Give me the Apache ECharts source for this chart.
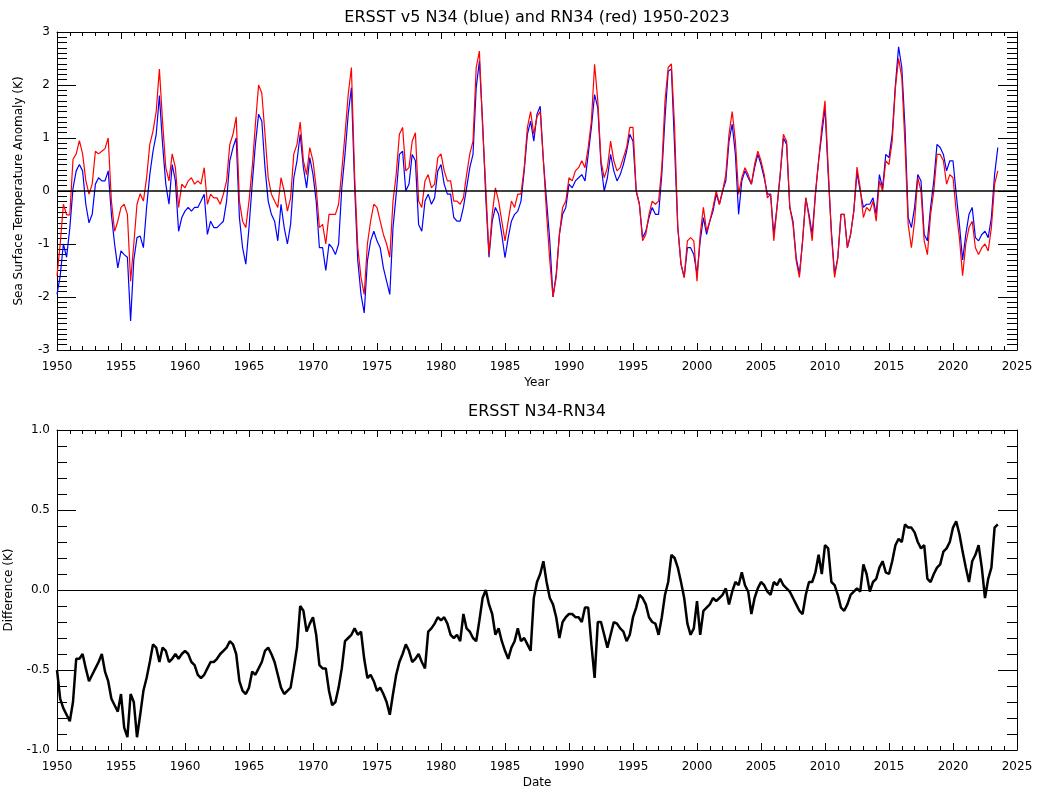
<!DOCTYPE html>
<html>
<head>
<meta charset="utf-8">
<title>ERSST v5 N34 and RN34</title>
<script src="https://cdn.jsdelivr.net/npm/echarts@6/dist/echarts.min.js"></script>
<style>
  html, body { margin: 0; padding: 0; background: #fff; }
  #chart { width: 1037px; height: 788px; }
</style>
</head>
<body>
<div id="chart"></div>
<script>
// Quarterly samples (Jan, Apr, Jul, Oct) starting January 1950.
const startYear = 1950;
const stepYears = 0.25;

// Nino 3.4 anomaly, ERSST v5 (K)
const n34 = [
  -1.95, -1.6, -1.0, -1.25,   // 1950
  -0.7, 0.05, 0.38, 0.5,
  0.38, -0.25, -0.6, -0.44,
  0.13, 0.25, 0.19, 0.19,
  0.38, -0.44, -1.0, -1.45,
  -1.13, -1.2, -1.25, -2.45,  // 1955
  -1.3, -0.88, -0.85, -1.07,
  -0.31, 0.31, 0.75, 1.07,
  1.8, 0.88, 0.13, -0.25,
  0.5, 0.19, -0.76, -0.5,
  -0.38, -0.31, -0.38, -0.31, // 1960
  -0.31, -0.19, -0.06, -0.82,
  -0.57, -0.69, -0.69, -0.63,
  -0.57, -0.19, 0.57, 0.82,
  1.0, -0.5, -1.07, -1.38,
  -0.69, 0.13, 0.88, 1.45,    // 1965
  1.32, 0.44, -0.19, -0.44,
  -0.57, -0.94, -0.25, -0.69,
  -1.0, -0.63, 0.25, 0.57,
  1.07, 0.44, 0.06, 0.63,
  0.31, -0.19, -1.07, -1.07,  // 1970
  -1.5, -1.0, -1.07, -1.2,
  -1.0, 0.06, 0.69, 1.45,
  1.95, 0.1, -1.32, -1.95,
  -2.3, -1.32, -0.94, -0.76,
  -0.94, -1.07, -1.45, -1.7,  // 1975
  -1.95, -0.69, -0.06, 0.69,
  0.75, 0.0, 0.13, 0.69,
  0.57, -0.63, -0.76, -0.19,
  -0.06, -0.25, -0.13, 0.38,
  0.5, 0.13, -0.06, -0.06,    // 1980
  -0.5, -0.57, -0.57, -0.31,
  0.06, 0.44, 0.69, 1.95,
  2.45, 1.3, -0.13, -1.25,
  -0.57, -0.31, -0.44, -0.82,
  -1.26, -0.88, -0.57, -0.44, // 1985
  -0.38, -0.19, 0.38, 1.07,
  1.32, 0.94, 1.45, 1.6,
  0.57, -0.19, -0.94, -2.0,
  -1.57, -0.82, -0.44, -0.31,
  0.13, 0.06, 0.19, 0.25,     // 1990
  0.31, 0.19, 0.69, 1.2,
  1.82, 1.57, 0.5, 0.0,
  0.25, 0.69, 0.38, 0.19,
  0.31, 0.5, 0.75, 1.07,
  0.94, 0.0, -0.25, -0.88,    // 1995
  -0.76, -0.5, -0.31, -0.44,
  -0.44, 0.31, 1.38, 2.26,
  2.3, 0.82, -0.69, -1.38,
  -1.63, -1.07, -1.07, -1.2,
  -1.57, -0.94, -0.5, -0.82,  // 2000
  -0.57, -0.38, -0.06, -0.25,
  0.0, 0.19, 0.94, 1.26,
  0.69, -0.44, 0.19, 0.38,
  0.25, 0.13, 0.44, 0.69,
  0.5, 0.25, -0.06, -0.06,    // 2005
  -0.82, -0.31, 0.31, 1.0,
  0.88, -0.31, -0.57, -1.26,
  -1.57, -0.94, -0.13, -0.44,
  -0.82, -0.06, 0.57, 1.07,
  1.57, 0.31, -0.76, -1.57,   // 2010
  -1.26, -0.44, -0.44, -1.07,
  -0.82, -0.38, 0.35, 0.0,
  -0.31, -0.25, -0.25, -0.13,
  -0.44, 0.31, 0.06, 0.69,
  0.63, 1.07, 2.0, 2.72,      // 2015
  2.33, 1.2, -0.5, -0.69,
  -0.31, 0.31, 0.19, -0.82,
  -0.94, -0.31, 0.19, 0.88,
  0.82, 0.69, 0.38, 0.57,
  0.57, -0.06, -0.63, -1.3,   // 2020
  -0.82, -0.44, -0.31, -0.88,
  -0.94, -0.82, -0.76, -0.88,
  -0.5, 0.31, 0.82
];

// Relative Nino 3.4 index (K)
const rn34 = [
  -1.6, -1.0, -0.25, -0.45,   // 1950
  -0.45, 0.6, 0.7, 0.95,
  0.7, 0.2, -0.06, 0.13,
  0.75, 0.7, 0.75, 0.8,
  1.0, -0.19, -0.76, -0.57,
  -0.31, -0.25, -0.44, -1.7,  // 1955
  -1.0, -0.25, -0.05, -0.19,
  0.25, 0.88, 1.13, 1.5,
  2.3, 1.3, 0.44, 0.19,
  0.7, 0.44, -0.31, 0.13,
  0.06, 0.19, 0.25, 0.13,     // 1960
  0.19, 0.13, 0.44, -0.25,
  -0.06, -0.13, -0.13, -0.25,
  -0.06, 0.19, 0.88, 1.07,
  1.4, -0.19, -0.57, -0.69,
  -0.19, 0.44, 1.26, 2.0,     // 1965
  1.85, 1.07, 0.25, -0.06,
  -0.19, -0.31, 0.25, 0.0,
  -0.38, -0.13, 0.7, 0.88,
  1.3, 0.57, 0.31, 0.82,
  0.57, 0.06, -0.69, -0.63,   // 1970
  -1.0, -0.44, -0.44, -0.44,
  -0.25, 0.38, 1.07, 1.82,
  2.33, 0.3, -1.07, -1.63,
  -1.95, -1.0, -0.57, -0.25,
  -0.31, -0.57, -0.82, -1.0,  // 1975
  -1.25, -0.19, 0.31, 1.07,
  1.2, 0.38, 0.44, 0.94,
  1.1, -0.19, -0.31, 0.19,
  0.31, 0.06, 0.13, 0.63,
  0.7, 0.38, 0.19, 0.19,      // 1980
  -0.19, -0.19, -0.25, -0.13,
  0.31, 0.7, 0.94, 2.33,
  2.64, 1.2, 0.06, -1.2,
  -0.44, 0.06, -0.19, -0.57,
  -0.94, -0.57, -0.19, -0.31, // 1985
  -0.06, -0.06, 0.44, 1.2,
  1.5, 1.07, 1.4, 1.5,
  0.57, -0.44, -1.32, -2.0,
  -1.63, -0.82, -0.31, -0.19,
  0.25, 0.19, 0.38, 0.44,     // 1990
  0.57, 0.44, 0.82, 1.32,
  2.39, 1.7, 0.57, 0.25,
  0.44, 0.94, 0.57, 0.38,
  0.44, 0.63, 0.82, 1.2,
  1.2, 0.0, -0.25, -0.94,     // 1995
  -0.82, -0.44, -0.19, -0.25,
  -0.19, 0.44, 1.7, 2.33,
  2.4, 1.2, -0.69, -1.38,
  -1.63, -0.94, -0.88, -0.94,
  -1.7, -0.82, -0.31, -0.76,  // 2000
  -0.57, -0.31, 0.0, -0.25,
  0.0, 0.31, 1.07, 1.5,
  0.94, -0.06, 0.25, 0.44,
  0.31, 0.13, 0.5, 0.75,
  0.57, 0.31, -0.13, -0.06,   // 2005
  -0.94, -0.31, 0.31, 1.07,
  0.94, -0.31, -0.63, -1.32,
  -1.63, -0.94, -0.13, -0.5,
  -0.94, -0.06, 0.57, 1.2,
  1.7, 0.44, -0.82, -1.63,    // 2010
  -1.26, -0.44, -0.44, -1.07,
  -0.82, -0.38, 0.45, 0.06,
  -0.5, -0.31, -0.38, -0.19,
  -0.57, 0.19, 0.0, 0.57,
  0.5, 0.94, 1.95, 2.5,       // 2015
  2.14, 0.88, -0.63, -1.07,
  -0.57, 0.25, 0.0, -0.94,
  -1.2, -0.44, 0.0, 0.69,
  0.69, 0.57, 0.13, 0.31,
  0.25, -0.38, -0.88, -1.6,   // 2020
  -1.0, -0.69, -0.57, -1.07,
  -1.2, -1.07, -1.0, -1.13,
  -0.69, 0.13, 0.38
];

// N34 minus RN34 (K)
const diff = [
  -0.5, -0.68, -0.74, -0.78,  // 1950
  -0.82, -0.7, -0.43, -0.43,
  -0.4, -0.49, -0.57, -0.53,
  -0.49, -0.45, -0.4, -0.51,
  -0.57, -0.68, -0.72, -0.76,
  -0.65, -0.86, -0.92, -0.65, // 1955
  -0.7, -0.92, -0.78, -0.63,
  -0.55, -0.45, -0.34, -0.36,
  -0.45, -0.36, -0.38, -0.45,
  -0.43, -0.4, -0.43, -0.4,
  -0.38, -0.4, -0.45, -0.47,  // 1960
  -0.53, -0.55, -0.53, -0.49,
  -0.45, -0.45, -0.43, -0.4,
  -0.38, -0.36, -0.32, -0.34,
  -0.4, -0.57, -0.63, -0.65,
  -0.61, -0.51, -0.53, -0.49, // 1965
  -0.45, -0.38, -0.36, -0.4,
  -0.45, -0.53, -0.61, -0.65,
  -0.63, -0.61, -0.49, -0.36,
  -0.1, -0.13, -0.26, -0.21,
  -0.17, -0.28, -0.47, -0.49, // 1970
  -0.49, -0.63, -0.72, -0.7,
  -0.61, -0.49, -0.32, -0.3,
  -0.28, -0.24, -0.28, -0.26,
  -0.43, -0.55, -0.53, -0.57,
  -0.63, -0.61, -0.65, -0.7,  // 1975
  -0.78, -0.65, -0.53, -0.45,
  -0.4, -0.34, -0.38, -0.45,
  -0.43, -0.4, -0.45, -0.49,
  -0.26, -0.24, -0.21, -0.17,
  -0.19, -0.17, -0.21, -0.28, // 1980
  -0.3, -0.28, -0.32, -0.15,
  -0.24, -0.26, -0.3, -0.32,
  -0.19, -0.05, 0.0, -0.09,
  -0.15, -0.28, -0.24, -0.32,
  -0.38, -0.43, -0.36, -0.32, // 1985
  -0.24, -0.32, -0.3, -0.34,
  -0.38, -0.05, 0.05, 0.1,
  0.18, 0.05, -0.05, -0.09,
  -0.17, -0.3, -0.2, -0.17,
  -0.15, -0.15, -0.17, -0.17, // 1990
  -0.2, -0.11, -0.11, -0.34,
  -0.55, -0.2, -0.2, -0.28,
  -0.36, -0.28, -0.2, -0.21,
  -0.24, -0.26, -0.32, -0.28,
  -0.17, -0.11, -0.03, -0.05, // 1995
  -0.09, -0.17, -0.2, -0.21,
  -0.28, -0.17, -0.03, 0.05,
  0.22, 0.2, 0.14, 0.05,
  -0.05, -0.21, -0.28, -0.24,
  -0.07, -0.28, -0.13, -0.11, // 2000
  -0.09, -0.05, -0.07, -0.05,
  -0.03, 0.01, -0.09, -0.01,
  0.05, 0.03, 0.11, 0.03,
  -0.01, -0.15, -0.05, 0.01,
  0.05, 0.03, -0.01, -0.03,   // 2005
  0.05, 0.03, 0.07, 0.03,
  0.01, -0.01, -0.05, -0.09,
  -0.13, -0.15, -0.03, 0.05,
  0.05, 0.11, 0.22, 0.1,
  0.28, 0.26, 0.05, 0.03,     // 2010
  -0.03, -0.11, -0.13, -0.09,
  -0.03, -0.01, 0.01, -0.01,
  0.16, 0.1, -0.01, 0.05,
  0.07, 0.14, 0.18, 0.11,
  0.1, 0.18, 0.28, 0.32,      // 2015
  0.3, 0.41, 0.39, 0.39,
  0.36, 0.3, 0.26, 0.28,
  0.07, 0.05, 0.1, 0.14,
  0.16, 0.24, 0.26, 0.3,
  0.39, 0.43, 0.35, 0.24,     // 2020
  0.14, 0.05, 0.18, 0.22,
  0.28, 0.14, -0.05, 0.07,
  0.14, 0.39, 0.41
];

const titleTop = 'ERSST v5 N34 (blue) and RN34 (red) 1950-2023';
const titleBottom = 'ERSST N34-RN34';
const xNameTop = 'Year';
const xNameBottom = 'Date';
const yNameTop = 'Sea Surface Temperature Anomaly (K)';
const yNameBottom = 'Difference (K)';

const FONT = 'DejaVu Sans';

function withTime(values) {
  return values.map((v, i) => [startYear + i * stepYears, v]);
}

function xAxisFor(gridIndex, position, showLabels, name) {
  return {
    type: 'value', gridIndex, position,
    min: 1950, max: 2025, interval: 5,
    name: showLabels ? name : '',
    nameLocation: 'middle', nameGap: 27,
    nameTextStyle: { color: '#000', fontFamily: FONT, fontSize: 12 },
    axisLine: { show: true, onZero: false, lineStyle: { color: '#000', width: 1 } },
    axisTick: { show: true, inside: true, length: 7, lineStyle: { color: '#000' } },
    minorTick: { show: true, splitNumber: 5, length: 4, lineStyle: { color: '#000' } },
    axisLabel: { show: showLabels, margin: 11, color: '#000', fontFamily: FONT, fontSize: 12,
                 formatter: v => String(v) },
    splitLine: { show: false }, minorSplitLine: { show: false }
  };
}

function yAxisFor(gridIndex, position, showLabels, name, min, max, interval, minorSplit, digits, gap) {
  return {
    type: 'value', gridIndex, position,
    min, max, interval,
    name: showLabels ? name : '',
    nameLocation: 'middle', nameGap: gap, nameRotate: 90,
    nameTextStyle: { color: '#000', fontFamily: FONT, fontSize: 12 },
    axisLine: { show: true, onZero: false, lineStyle: { color: '#000', width: 1 } },
    axisTick: { show: true, inside: true, length: 19, lineStyle: { color: '#000' } },
    minorTick: { show: true, splitNumber: minorSplit, length: 10, lineStyle: { color: '#000' } },
    axisLabel: { show: showLabels, margin: 7, color: '#000', fontFamily: FONT, fontSize: 12,
                 formatter: v => v.toFixed(digits) },
    splitLine: { show: false }, minorSplitLine: { show: false }
  };
}

const zeroLine = {
  silent: true, symbol: 'none', animation: false,
  label: { show: false },
  lineStyle: { color: '#000', width: 1.5, type: 'solid' },
  data: [{ yAxis: 0 }]
};

const chart = echarts.init(document.getElementById('chart'), null, { renderer: 'canvas' });
chart.setOption({
  animation: false,
  backgroundColor: '#fff',
  grid: [
    { left: 57, top: 32, width: 960, height: 318, containLabel: false, outerBoundsMode: 'none' },
    { left: 57, top: 430, width: 960, height: 320, containLabel: false, outerBoundsMode: 'none' }
  ],
  xAxis: [
    xAxisFor(0, 'bottom', true, xNameTop),
    xAxisFor(0, 'top', false, ''),
    xAxisFor(1, 'bottom', true, xNameBottom),
    xAxisFor(1, 'top', false, '')
  ],
  yAxis: [
    yAxisFor(0, 'left', true, yNameTop, -3, 3, 1, 10, 0, 32),
    yAxisFor(0, 'right', false, '', -3, 3, 1, 10, 0, 0),
    yAxisFor(1, 'left', true, yNameBottom, -1, 1, 0.5, 5, 1, 42),
    yAxisFor(1, 'right', false, '', -1, 1, 0.5, 5, 1, 0)
  ],
  graphic: [
    { type: 'text', x: 537, y: 18, style: { text: titleTop, align: 'center', verticalAlign: 'middle',
      fontFamily: FONT, fontSize: 16, fill: '#000' } },
    { type: 'text', x: 537, y: 412, style: { text: titleBottom, align: 'center', verticalAlign: 'middle',
      fontFamily: FONT, fontSize: 16, fill: '#000' } }
  ],
  series: [
    {
      name: 'N34', type: 'line', xAxisIndex: 0, yAxisIndex: 0,
      data: withTime(n34), showSymbol: false, symbol: 'none',
      lineStyle: { color: '#0000ff', width: 1.2 }, z: 2,
      markLine: zeroLine
    },
    {
      name: 'RN34', type: 'line', xAxisIndex: 0, yAxisIndex: 0,
      data: withTime(rn34), showSymbol: false, symbol: 'none',
      lineStyle: { color: '#ff0000', width: 1.2 }, z: 3
    },
    {
      name: 'N34-RN34', type: 'line', xAxisIndex: 2, yAxisIndex: 2,
      data: withTime(diff), showSymbol: false, symbol: 'none',
      lineStyle: { color: '#000', width: 2.5 }, z: 3,
      markLine: Object.assign({}, zeroLine, { lineStyle: { color: '#000', width: 1.2, type: 'solid' } })
    }
  ]
});
</script>
</body>
</html>
